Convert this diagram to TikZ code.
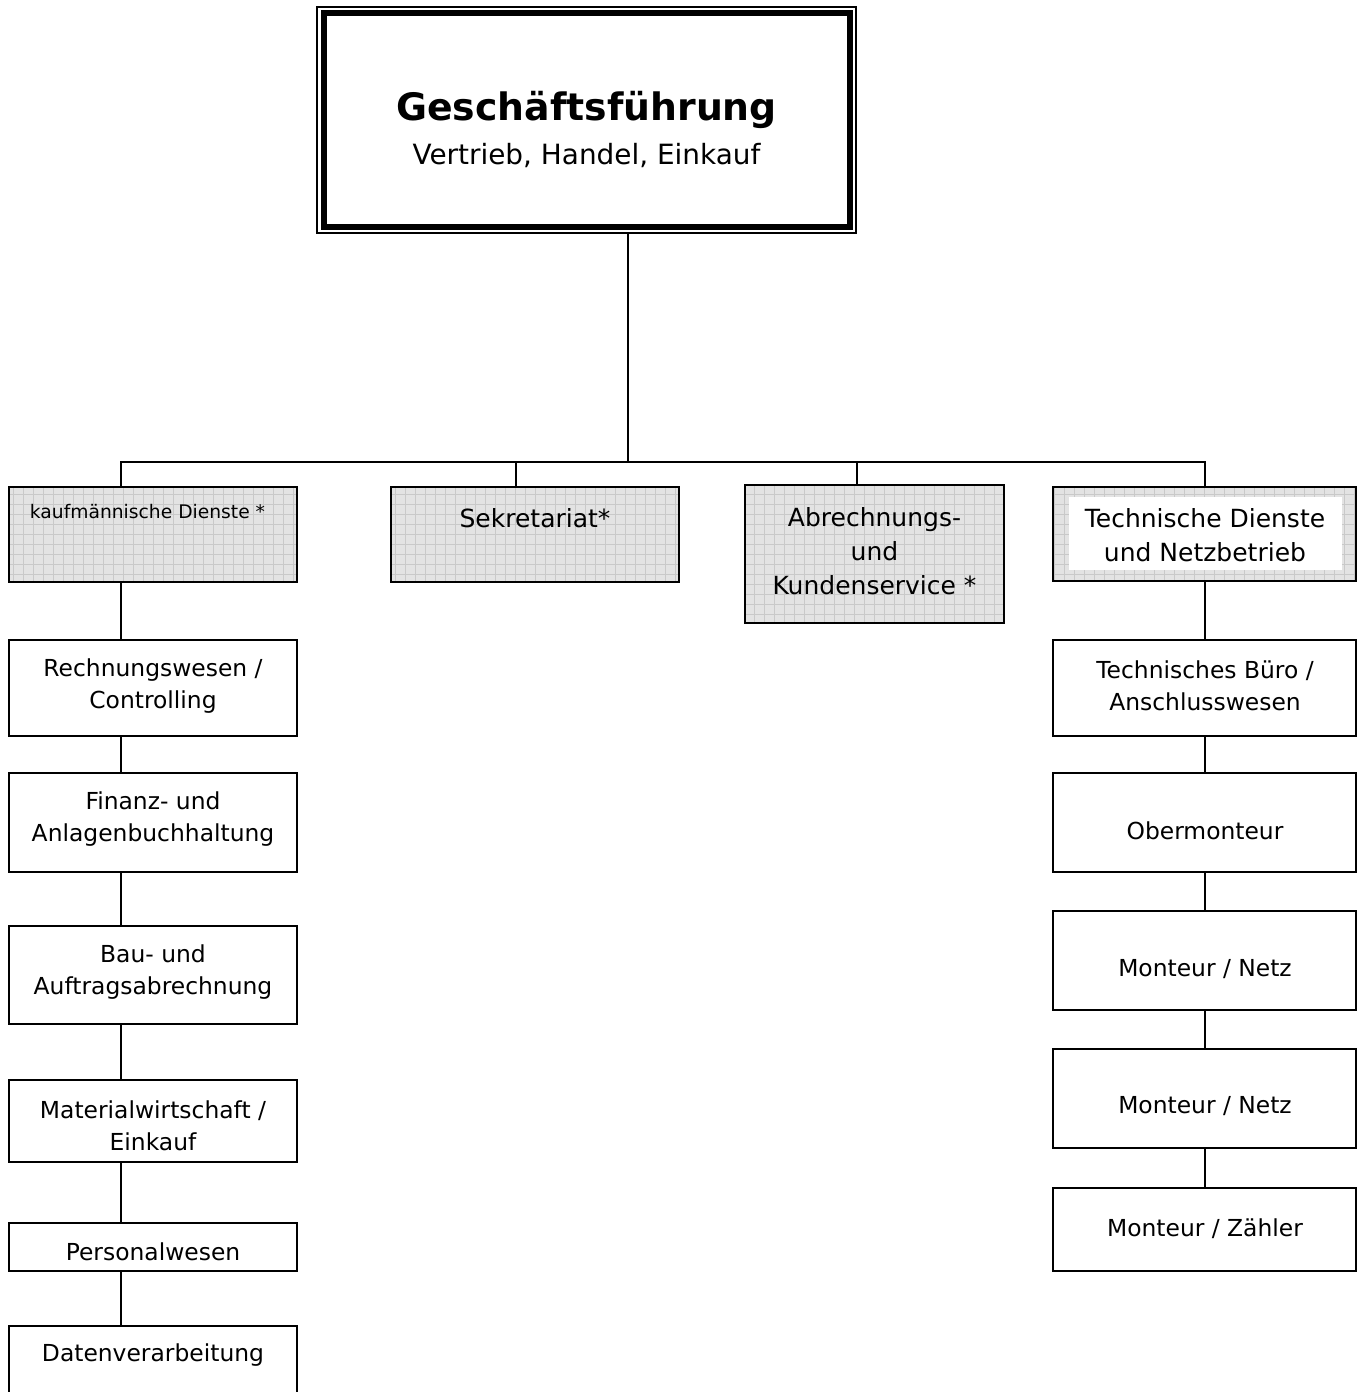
\documentclass[tikz,border=0pt]{standalone}
\usepackage{fontspec}
\setmainfont{DejaVu Sans}
\definecolor{boxgray}{HTML}{E3E3E3}
\definecolor{gridgray}{HTML}{C9C9C9}
\tikzset{
  box/.style={draw=black, line width=1.6pt, fill=white, rectangle, inner sep=0pt},
  gbox/.style={box, fill=boxgray, path picture={\draw[gridgray, line width=0.6pt] (path picture bounding box.south west) grid[step=10pt] (path picture bounding box.north east);}},
  conn/.style={line width=1.6pt, line cap=rect},
  lbl/.style={align=center, inner sep=0pt, font=\fontsize{23.4}{32}\selectfont},
  glbl/.style={align=center, inner sep=0pt, font=\fontsize{25}{34}\selectfont},
}
\begin{document}
\begin{tikzpicture}[x=1pt, y=-1pt]
\useasboundingbox (0,0) rectangle (1364,1392);
\fill[white] (0,0) rectangle (1364,1392);

% top box
\node[box, line width=1.2pt, minimum width=539pt, minimum height=226pt] (top) at (586.5,120) {};
\draw[line width=6pt] ([shift={(8,7)}]top.north west) rectangle ([shift={(-7,-7)}]top.south east);
\node[inner sep=0pt, font=\fontsize{37.8}{40}\selectfont\bfseries] (topT) at (586.5,110) {Geschäftsführung};
\node[inner sep=0pt, font=\fontsize{27.9}{30}\selectfont] (topS) at (586.5,156) {Vertrieb, Handel, Einkauf};

% second level
\node[gbox, minimum width=288pt, minimum height=95pt] (kd) at (153,534.5) {};
\node[inner sep=0pt, font=\fontsize{18.7}{22}\selectfont] (kdT) at (147.5,512) {kaufmännische Dienste *};
\node[gbox, minimum width=288pt, minimum height=95pt] (sk) at (535,534.5) {};
\node[glbl] (skT) at (535,518) {Sekretariat*};
\node[gbox, minimum width=259pt, minimum height=138pt] (ab) at (874.5,554) {};
\node[glbl] (abT) at (874.5,551) {Abrechnungs-\\und\\Kundenservice *};
\node[gbox, minimum width=303pt, minimum height=94pt] (tn) at (1204.5,534) {};
\node[fill=white, inner sep=0pt, minimum width=273pt, minimum height=73pt] (tnW) at (1205.5,533.5) {};
\node[glbl] (tnT) at (1205,535) {Technische Dienste\\und Netzbetrieb};

% left column
\node[box, minimum width=288pt, minimum height=96pt] (rw) at (153,688) {};
\node[lbl] (rwT) at (153,686) {Rechnungswesen /\\Controlling};
\node[box, minimum width=288pt, minimum height=99pt] (fa) at (153,822.5) {};
\node[lbl] (faT) at (153,819) {Finanz- und\\Anlagenbuchhaltung};
\node[box, minimum width=288pt, minimum height=98pt] (ba) at (153,975) {};
\node[lbl] (baT) at (153,972) {Bau- und\\Auftragsabrechnung};
\node[box, minimum width=288pt, minimum height=82pt] (mw) at (153,1121) {};
\node[lbl] (mwT) at (153,1126) {Materialwirtschaft /\\Einkauf};
\node[box, minimum width=288pt, minimum height=48pt] (pw) at (153,1247) {};
\node[lbl] (pwT) at (153,1252) {Personalwesen};
\node[box, minimum width=288pt, minimum height=80pt] (dv) at (153,1366) {};
\node[lbl] (dvT) at (153,1355) {Datenverarbeitung};

% right column
\node[box, minimum width=303pt, minimum height=96pt] (tb) at (1204.5,688) {};
\node[lbl] (tbT) at (1205,686) {Technisches Büro /\\Anschlusswesen};
\node[box, minimum width=303pt, minimum height=99pt] (om) at (1204.5,822.5) {};
\node[lbl] (omT) at (1205,831) {Obermonteur};
\node[box, minimum width=303pt, minimum height=99pt] (mn1) at (1204.5,960.5) {};
\node[lbl] (mn1T) at (1205,969) {Monteur / Netz};
\node[box, minimum width=303pt, minimum height=99pt] (mn2) at (1204.5,1098.5) {};
\node[lbl] (mn2T) at (1205,1106) {Monteur / Netz};
\node[box, minimum width=303pt, minimum height=83pt] (mz) at (1204.5,1229.5) {};
\node[lbl] (mzT) at (1205,1229) {Monteur / Zähler};

% connectors
\coordinate (bus) at (628,462);
\coordinate (bL) at (121,462);
\coordinate (bS) at (516,462);
\coordinate (bA) at (857,462);
\coordinate (bR) at (1205,462);
\draw[conn] (top.south -| bus) -- (bus);
\draw[conn] (bL) -- (bR);
\draw[conn] (bL) -- (kd.north -| bL);
\draw[conn] (bS) -- (sk.north -| bS);
\draw[conn] (bA) -- (ab.north -| bA);
\draw[conn] (bR) -- (tn.north -| bR);

\draw[conn] (kd.south -| bL) -- (rw.north -| bL);
\draw[conn] (rw.south -| bL) -- (fa.north -| bL);
\draw[conn] (fa.south -| bL) -- (ba.north -| bL);
\draw[conn] (ba.south -| bL) -- (mw.north -| bL);
\draw[conn] (mw.south -| bL) -- (pw.north -| bL);
\draw[conn] (pw.south -| bL) -- (dv.north -| bL);

\draw[conn] (tn.south -| bR) -- (tb.north -| bR);
\draw[conn] (tb.south -| bR) -- (om.north -| bR);
\draw[conn] (om.south -| bR) -- (mn1.north -| bR);
\draw[conn] (mn1.south -| bR) -- (mn2.north -| bR);
\draw[conn] (mn2.south -| bR) -- (mz.north -| bR);
\end{tikzpicture}
\end{document}
